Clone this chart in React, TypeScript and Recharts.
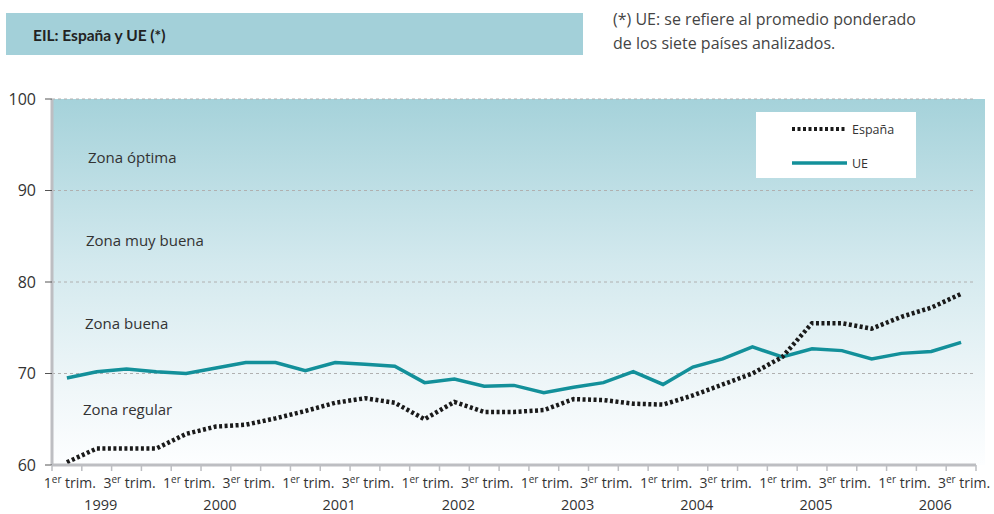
import React from "react";
import { LineChart, Line, XAxis, YAxis, CartesianGrid } from "recharts";

const YEARS = ["1999", "2000", "2001", "2002", "2003", "2004", "2005", "2006"];
const QUARTER_TAGS = ["T1", "T2", "T3", "T4"];
const Y_TICKS = [60, 70, 80, 90, 100];

// índice EIL trimestral, 1999 T1 .. 2006 T3
const ESPANA = [
  60.3, 61.8, 61.8, 61.8, 63.4, 64.2, 64.4, 65.1, 65.9, 66.8, 67.3, 66.8, 65.0, 66.9, 65.8, 65.8,
  66.0, 67.2, 67.1, 66.7, 66.6, 67.6, 68.8, 70.0, 71.8, 75.5, 75.5, 74.9, 76.2, 77.2, 78.7,
];
const UE = [
  69.5, 70.2, 70.5, 70.2, 70.0, 70.6, 71.2, 71.2, 70.3, 71.2, 71.0, 70.8, 69.0, 69.4, 68.6, 68.7,
  67.9, 68.5, 69.0, 70.2, 68.8, 70.7, 71.6, 72.9, 71.8, 72.7, 72.5, 71.6, 72.2, 72.4, 73.4,
];

const ZONES = [
  { label: "Zona óptima", top: 147, left: 88 },
  { label: "Zona muy buena", top: 230, left: 86 },
  { label: "Zona buena", top: 313, left: 85 },
  { label: "Zona regular", top: 399, left: 83 },
];

const quarters = YEARS.flatMap((y) => QUARTER_TAGS.map((q) => `${y} ${q}`)).slice(0, ESPANA.length);
const data = quarters.map((q, i) => ({ q, espana: ESPANA[i], ue: UE[i] }));

const W = 994;
const H = 514;
const PLOT_LEFT = 52;
const PLOT_RIGHT = 976;
const BAND = (PLOT_RIGHT - PLOT_LEFT) / data.length;
const FONT = "'Open Sans', sans-serif";
const TEAL = "#13909a";

function QuarterTick(props: any) {
  const { x, y, index } = props;
  const pos = index % 4;
  const year = quarters[index].split(" ")[0];
  const last = index === data.length - 1;
  return (
    <g>
      <line x1={x - BAND / 2} x2={x - BAND / 2} y1={y} y2={y + 6} stroke="#bdbec2" strokeWidth={1.5} />
      {last && <line x1={x + BAND / 2} x2={x + BAND / 2} y1={y} y2={y + 6} stroke="#bdbec2" strokeWidth={1.5} />}
      {(pos === 0 || pos === 2) && (
        <text x={x + 3} y={y + 23} textAnchor="middle" fontSize={14} fill="#333" fontFamily={FONT}>
          <tspan>{pos === 0 ? "1" : "3"}</tspan>
          <tspan fontSize={10} dy={-5}>er</tspan>
          <tspan dy={5}> trim.</tspan>
        </text>
      )}
      {pos === 1 && (
        <text x={x + 4} y={y + 45} textAnchor="middle" fontSize={14.5} fill="#333" fontFamily={FONT}>
          {year}
        </text>
      )}
    </g>
  );
}

function LegendBox() {
  return (
    <div style={{ position: "absolute", left: 756, top: 112, background: "#fff", width: 160, height: 66 }}>
      <svg width={160} height={66} style={{ position: "absolute", left: 0, top: 0 }}>
        <line x1={36} x2={91} y1={17} y2={17} stroke="#1a1a1a" strokeWidth={4} strokeDasharray="3 2.5" />
        <line x1={36} x2={91} y1={51} y2={51} stroke={TEAL} strokeWidth={3.5} />
        <text x={96} y={21.5} fontSize={12.5} fill="#333" fontFamily={FONT}>España</text>
        <text x={96} y={55.5} fontSize={12.5} fill="#333" fontFamily={FONT}>UE</text>
      </svg>
    </div>
  );
}

export default function App() {
  return (
    <div style={{ position: "absolute", left: 0, top: 0, width: W, height: H, background: "#fff", fontFamily: FONT }}>
      <div style={{ position: "absolute", left: 6, top: 13, width: 577, height: 42, background: "#a3d0d9" }}>
        <div style={{ position: "absolute", left: 27, top: 13, fontSize: 15.5, fontWeight: 700, color: "#222", fontFamily: "Lato, sans-serif" }}>
          EIL: España y UE (*)
        </div>
      </div>
      <div style={{ position: "absolute", left: 613, top: 7, fontSize: 16, lineHeight: "24px", color: "#444" }}>
        (*) UE: se refiere al promedio ponderado
        <br />
        de los siete países analizados.
      </div>
      <div
        style={{
          position: "absolute",
          left: PLOT_LEFT,
          top: 99,
          width: 985 - PLOT_LEFT,
          height: 366,
          background: "linear-gradient(to bottom, #a5d2da 0%, #d3e9ee 45%, #f0f7f9 80%, #fdfeff 100%)",
        }}
      />
      {ZONES.map((z) => (
        <div key={z.label} style={{ position: "absolute", left: z.left, top: z.top, fontSize: 15, color: "#333" }}>
          {z.label}
        </div>
      ))}
      <LegendBox />
      <div style={{ position: "absolute", left: 0, top: 0 }}>
        <LineChart width={W} height={H} data={data} margin={{ top: 99, right: W - PLOT_RIGHT, bottom: 0, left: 0 }}>
          <CartesianGrid vertical={false} stroke="#b0b0b0" strokeDasharray="3 3" />
          <XAxis
            dataKey="q"
            scale="band"
            interval={0}
            height={49}
            axisLine={{ stroke: "#bdbec2", strokeWidth: 3 }}
            tickLine={false}
            tickSize={0}
            tickMargin={0}
            tick={<QuarterTick />}
          />
          <YAxis
            domain={[60, 100]}
            ticks={Y_TICKS}
            width={PLOT_LEFT}
            axisLine={{ stroke: "#bdbec2", strokeWidth: 3 }}
            tickLine={{ stroke: "#555" }}
            tickSize={7}
            tickMargin={9}
            tick={{ fontSize: 16, fill: "#333", fontFamily: FONT }}
          />
          <Line
            dataKey="ue"
            name="UE"
            stroke={TEAL}
            strokeWidth={3.5}
            dot={false}
            isAnimationActive={false}
          />
          <Line
            dataKey="espana"
            name="España"
            stroke="#1a1a1a"
            strokeWidth={4.5}
            strokeDasharray="3 2.5"
            dot={false}
            isAnimationActive={false}
          />
        </LineChart>
      </div>
    </div>
  );
}
